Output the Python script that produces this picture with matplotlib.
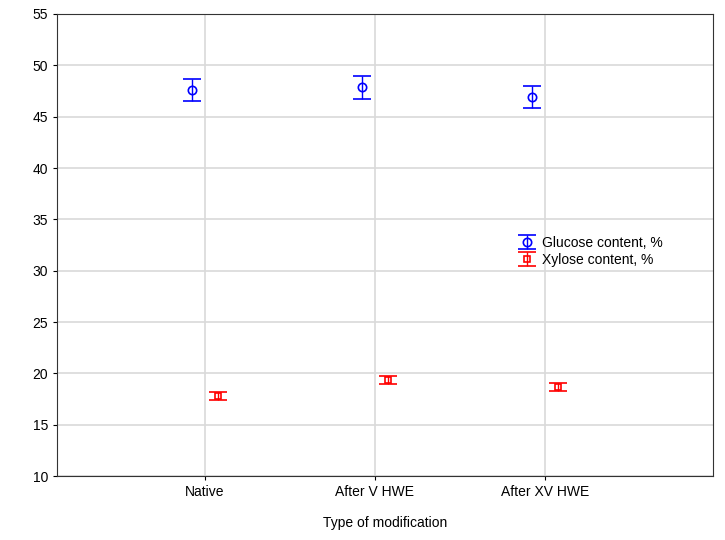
import numpy as np
import matplotlib.pyplot as plt

plt.rcParams['font.family'] = ['Liberation Sans', 'DejaVu Sans']

categories = ['Native', 'After V HWE', 'After XV HWE']
glucose = [47.6, 47.85, 46.9]
glucose_err = [1.1, 1.1, 1.1]
xylose = [17.8, 19.35, 18.7]
xylose_err = [0.4, 0.4, 0.38]

fig = plt.figure(figsize=(7.25, 5.4), dpi=100)
ax = fig.add_axes([57/725, 64/540, 656/725, 462/540])

x = np.arange(len(categories))
off = 0.076
ax.errorbar(x - off, glucose, yerr=glucose_err, fmt='o', mfc='none', mec='blue',
            color='blue', ms=6, capsize=6.5, elinewidth=1, capthick=1.2, mew=1.2,
            label='Glucose content, %')
ax.errorbar(x + off, xylose, yerr=xylose_err, fmt='s', mfc='none', mec='red',
            color='red', ms=5, capsize=6.5, elinewidth=1, capthick=1.2, mew=1.2,
            label='Xylose content, %')

ax.set_xlim(-0.87, 2.99)
ax.set_ylim(10, 55)
ax.set_yticks(range(10, 56, 5))
ax.set_xticks(x)
ax.set_xticklabels(categories)
ax.grid(True, color='#d9d9d9', lw=1.2)
ax.set_axisbelow(True)
ax.tick_params(labelsize=10, length=3)
for s in ax.spines.values():
    s.set_color('#333333')
ax.set_xlabel('Type of modification', fontsize=10, labelpad=12)
ax.legend(loc='upper left', bbox_to_anchor=(0.69, 0.535), frameon=False,
          fontsize=10, handlelength=1.5, handletextpad=0.3, labelspacing=0.25,
          borderpad=0)

fig.savefig('out.png', dpi=100)
